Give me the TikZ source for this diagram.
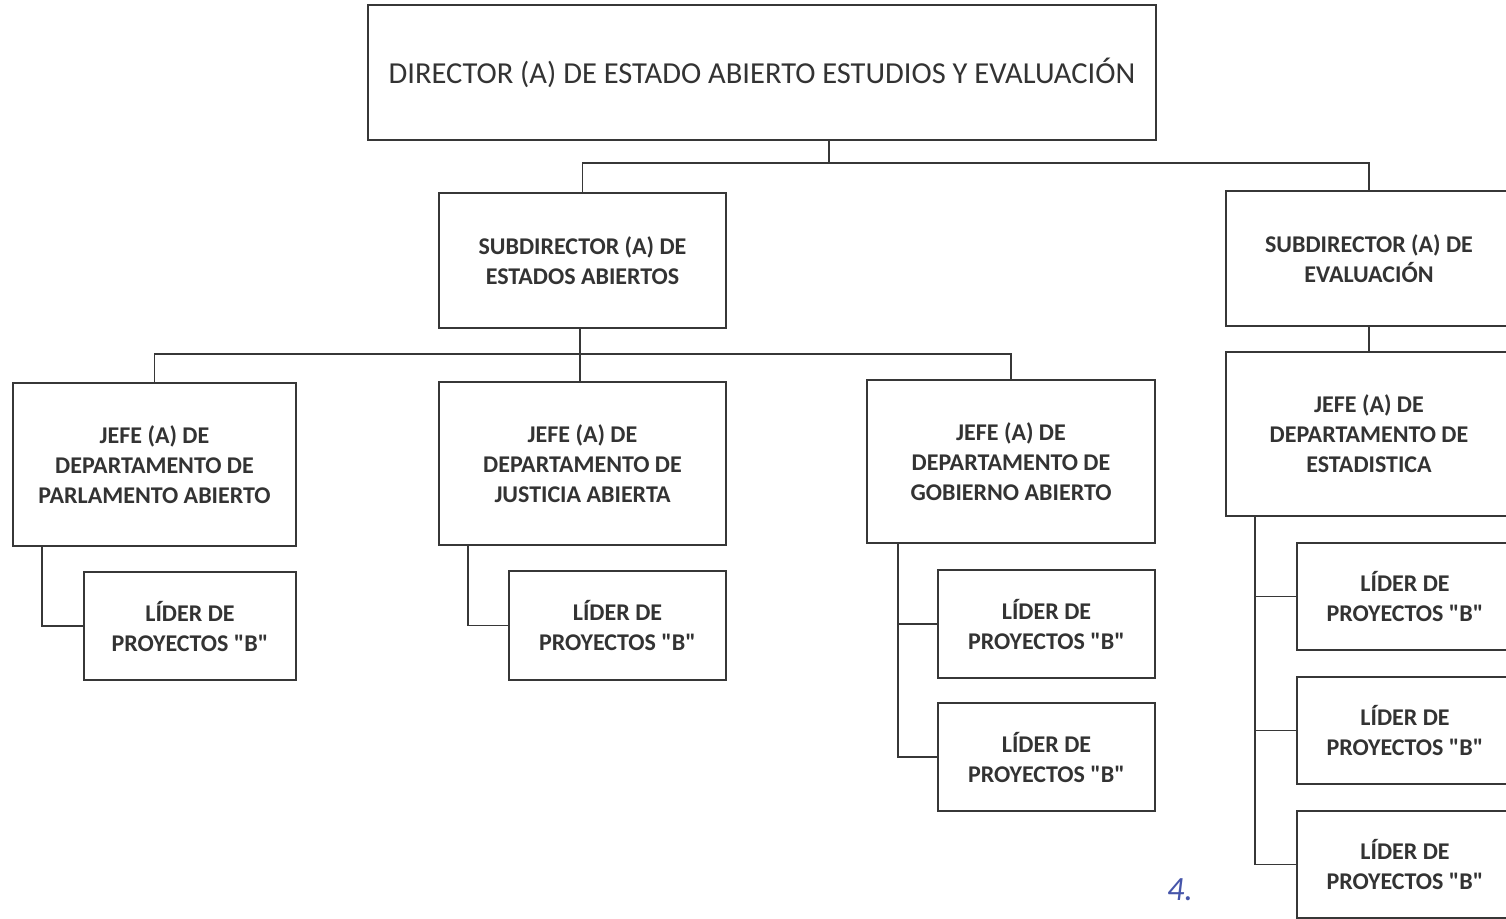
\documentclass[tikz,border=0pt]{standalone}
\usepackage{fontspec}
\setmainfont{Carlito}
\usetikzlibrary{positioning}
\definecolor{lineGray}{RGB}{55,55,55}
\definecolor{inkBlue}{RGB}{70,85,170}
\newcommand{\qB}{\textquotedbl B\textquotedbl}
\begin{document}
\begin{tikzpicture}[x=1pt, y=-1pt,
    boxStyle/.style={draw=lineGray, line width=1.8pt, fill=white, align=center, inner sep=0pt,
        font=\bfseries\fontsize{24}{30}\selectfont, text=black!80},
    lineStyle/.style={draw=lineGray, line width=1.8pt}]
    \fill[white] (0,0) rectangle (1506,918);
    \useasboundingbox (0,0) rectangle (1506,918);
    \clip (0,0) rectangle (1506,918);

    % top level
    \node[boxStyle, minimum width=788, minimum height=135, font=\fontsize{30.5}{30}\selectfont](dir) at (762, 72.5) {DIRECTOR (A) DE ESTADO ABIERTO ESTUDIOS Y EVALUACIÓN};

    % subdirectors
    \node[boxStyle, minimum width=287, minimum height=135](sub1) at (582.5, 260.5) {SUBDIRECTOR (A) DE\\ESTADOS ABIERTOS};
    \node[boxStyle, minimum width=286, minimum height=135](sub2) at (1369, 258.5) {SUBDIRECTOR (A) DE\\EVALUACIÓN};

    % department heads
    \node[boxStyle, minimum width=283, minimum height=163](jefe1) at (154.5, 464.5) {JEFE (A) DE\\DEPARTAMENTO DE\\PARLAMENTO ABIERTO};
    \node[boxStyle, minimum width=287, minimum height=163](jefe2) at (582.5, 463.5) {JEFE (A) DE\\DEPARTAMENTO DE\\JUSTICIA ABIERTA};
    \node[boxStyle, minimum width=288, minimum height=163](jefe3) at (1011, 461.5) {JEFE (A) DE\\DEPARTAMENTO DE\\GOBIERNO ABIERTO};
    \node[boxStyle, minimum width=286, minimum height=164](jefe4) at (1369, 434) {JEFE (A) DE\\DEPARTAMENTO DE\\ESTADISTICA};

    % project leaders
    \node[boxStyle, minimum width=212, minimum height=108](lid1) at (190, 626) {LÍDER DE\\PROYECTOS \qB};
    \node[boxStyle, minimum width=217, minimum height=109](lid2) at (617.5, 625.5) {LÍDER DE\\PROYECTOS \qB};
    \node[boxStyle, minimum width=217, minimum height=108](lid3a) at (1046.5, 624) {LÍDER DE\\PROYECTOS \qB};
    \node[boxStyle, minimum width=217, minimum height=108](lid3b) at (1046.5, 757) {LÍDER DE\\PROYECTOS \qB};
    \node[boxStyle, minimum width=216, minimum height=107](lid4a) at (1405, 596.5) {LÍDER DE\\PROYECTOS \qB};
    \node[boxStyle, minimum width=216, minimum height=107](lid4b) at (1405, 730.5) {LÍDER DE\\PROYECTOS \qB};
    \node[boxStyle, minimum width=216, minimum height=107](lid4c) at (1405, 864.5) {LÍDER DE\\PROYECTOS \qB};

    \node[text=inkBlue, font=\itshape\fontsize{34}{34}\selectfont](mark) at (1180, 890) {4.};

    % connectors
    \coordinate (busA) at (829, 163);
    \coordinate (busB) at (580, 354);
    \draw[lineStyle] (dir.south -| busA) -- (busA);
    \draw[lineStyle] (sub1.north) -- (sub1.north |- busA) -- (sub2.north |- busA) -- (sub2.north);
    \draw[lineStyle] (sub1.south -| busB) -- (busB);
    \draw[lineStyle] (jefe1.north) -- (jefe1.north |- busB) -- (jefe3.north |- busB) -- (jefe3.north);
    \draw[lineStyle] (jefe2.north -| busB) -- (busB);
    \draw[lineStyle] (sub2.south) -- (jefe4.north);

    \coordinate (stem1) at (42, 546);
    \coordinate (stem2) at (468, 545);
    \coordinate (stem3) at (898, 543);
    \coordinate (stem4) at (1255, 516);
    \draw[lineStyle] (stem1) |- (lid1.west);
    \draw[lineStyle] (stem2) |- (lid2.west);
    \draw[lineStyle] (stem3) |- (lid3b.west);
    \draw[lineStyle] (stem3 |- lid3a.west) -- (lid3a.west);
    \draw[lineStyle] (stem4) |- (lid4c.west);
    \draw[lineStyle] (stem4 |- lid4a.west) -- (lid4a.west);
    \draw[lineStyle] (stem4 |- lid4b.west) -- (lid4b.west);
\end{tikzpicture}
\end{document}
